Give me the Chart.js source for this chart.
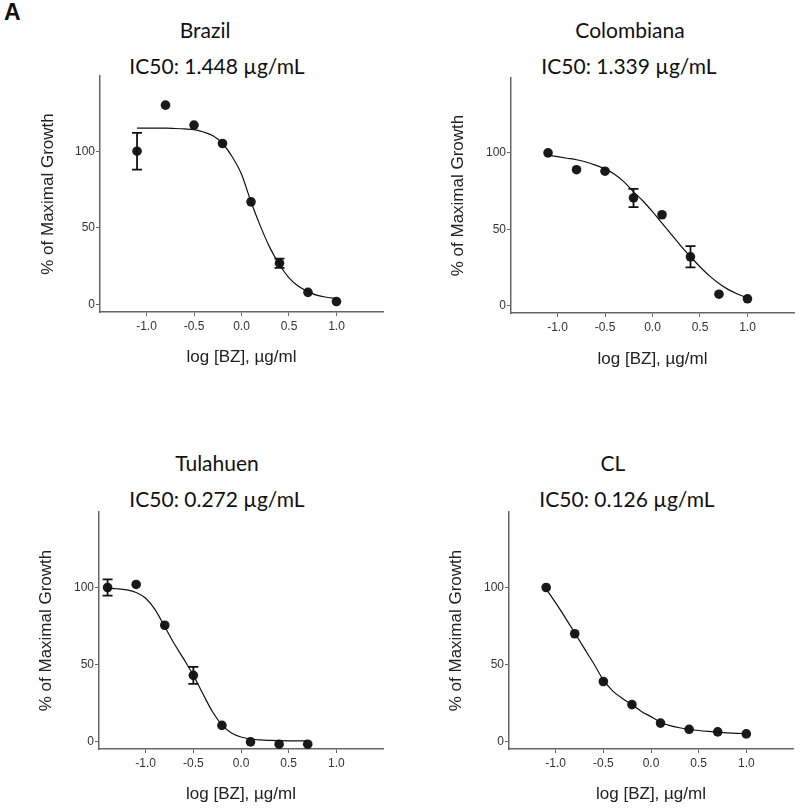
<!DOCTYPE html>
<html>
<head>
<meta charset="utf-8">
<script src="https://cdn.jsdelivr.net/npm/chart.js@4"></script>
<style>
  body { margin: 0; background: #fff; }
  #page { position: relative; width: 800px; height: 809px; overflow: hidden; }
  canvas { position: absolute; }
  .ttl { position: absolute; font-family: Lato, "Open Sans", sans-serif; font-size: 21px; color: #111;
         white-space: nowrap; line-height: 24px; transform: translateX(-50%); }
  #letterA { position: absolute; left: 4px; top: -1px; font: bold 23px "Liberation Sans", Arial, sans-serif; color: #111; }
</style>
</head>
<body>
<div id="page">
  <div id="letterA">A</div>

  <div class="ttl" style="left:205px; top:18px">Brazil</div>
  <div class="ttl" style="left:217px; top:54px">IC50: 1.448 µg/mL</div>
  <div class="ttl" style="left:630px; top:18px">Colombiana</div>
  <div class="ttl" style="left:629px; top:54px">IC50: 1.339 µg/mL</div>
  <div class="ttl" style="left:217px; top:451px">Tulahuen</div>
  <div class="ttl" style="left:613px; top:451px">CL</div>
  <div class="ttl" style="left:217px; top:487px">IC50: 0.272 µg/mL</div>
  <div class="ttl" style="left:627px; top:487px">IC50: 0.126 µg/mL</div>

  <canvas id="brazil" width="400" height="400" style="left:0; top:0"></canvas>
  <canvas id="colombiana" width="400" height="400" style="left:400px; top:0"></canvas>
  <canvas id="tulahuen" width="400" height="409" style="left:0; top:400px"></canvas>
  <canvas id="cl" width="400" height="409" style="left:400px; top:400px"></canvas>
</div>

<script>
// log10 dose, ug/ml
const doseLog = [-1.1, -0.8, -0.5, -0.2, 0.1, 0.4, 0.7, 1.0];
const tulDoseLog = [-1.4, -1.1, -0.8, -0.5, -0.2, 0.1, 0.4, 0.7];

// measured % of maximal growth, with +/- error where a bar is shown
const brazilGrowth = [100, 130, 117, 105, 67, 27, 8, 2];
const brazilErr = [12, 0, 0, 0, 0, 3, 0, 0];
const colGrowth = [100, 89, 88, 70.5, 59.5, 32, 7.5, 4.5];
const colErr = [0, 0, 0, 6, 0, 7, 0, 0];
const tulGrowth = [100, 102, 75.5, 43, 10.5, -0.2, -1.7, -1.7];
const tulErr = [5.3, 0, 0, 5.5, 0, 0, 0, 0];
const clGrowth = [100, 70, 39, 24, 12, 8, 6.3, 5];
const clErr = [0, 0, 0, 0, 0, 0, 0, 0];

// fitted curves
const fitX = [-1.1, -1.0, -0.9, -0.8, -0.7, -0.6, -0.5, -0.4, -0.3, -0.2, -0.1,
              0.0, 0.1, 0.2, 0.3, 0.4, 0.5, 0.6, 0.7, 0.8, 0.9, 1.0];
const tulFitX = [-1.4, -1.3, -1.2, -1.1, -1.0, -0.9, -0.8, -0.7, -0.6, -0.5, -0.4,
                 -0.3, -0.2, -0.1, 0.0, 0.1, 0.2, 0.3, 0.4, 0.5, 0.6, 0.7];
const brazilFit = [115, 115, 115, 115, 114.8, 114.5, 114, 112.5, 110, 105, 96.5,
                   85, 67, 51, 37, 26, 17.5, 12, 8.5, 6, 4.8, 4];
const colFit = [98.5, 97.5, 96.5, 95.5, 94, 92, 89.5, 86, 81, 74.5, 68.5,
                61.5, 54, 46.5, 39, 32, 25.5, 19.5, 14.5, 10.5, 7.5, 5];
const tulFit = [99.5, 99.2, 98.5, 96.8, 93, 85.5, 74.5, 63.5, 53.5, 43, 31,
                19.5, 10.8, 5.6, 3, 1.7, 1.1, 0.8, 0.6, 0.5, 0.5, 0.5];
const clFit = [99, 90, 80.5, 70.5, 60.5, 50.5, 40, 32.8, 28, 24, 19.6,
               16.2, 12.6, 10.4, 9, 8, 7.2, 6.6, 6.1, 5.7, 5.4, 5.2];

const xTicks = [-1.0, -0.5, 0.0, 0.5, 1.0];
const yTicks = [0, 50, 100];

const AXIS_FONT = '"Liberation Sans", Arial, sans-serif';

// error bars drawn through the chart's own scales
const errorBars = {
  id: 'errorBars',
  afterDatasetsDraw(chart) {
    const ds = chart.data.datasets[1];
    if (!ds.errors) return;
    const xs = chart.scales.x, ys = chart.scales.y;
    const ctx = chart.ctx;
    ctx.save();
    ctx.strokeStyle = '#111';
    ctx.lineWidth = 1.8;
    ds.data.forEach((p, i) => {
      const e = ds.errors[i];
      if (!e) return;
      const px = xs.getPixelForValue(p.x);
      const top = ys.getPixelForValue(p.y + e);
      const bot = ys.getPixelForValue(p.y - e);
      ctx.beginPath();
      ctx.moveTo(px, top); ctx.lineTo(px, bot);
      ctx.moveTo(px - 5, top); ctx.lineTo(px + 5, top);
      ctx.moveTo(px - 5, bot); ctx.lineTo(px + 5, bot);
      ctx.stroke();
    });
    ctx.restore();
  }
};

function makeChart(id, xs, ys, errs, fx, fy, lay) {
  const points = xs.map((x, i) => ({ x: x, y: ys[i] }));
  const curve = fx.map((x, i) => ({ x: x, y: fy[i] }));

  return new Chart(document.getElementById(id), {
    type: 'scatter',
    data: {
      datasets: [{
        data: curve,
        showLine: true,
        borderColor: '#111',
        borderWidth: 1.2,
        pointRadius: 0,
        cubicInterpolationMode: 'monotone'
      }, {
        data: points,
        errors: errs,
        pointRadius: 4.8,
        pointBackgroundColor: '#1a1a1a',
        pointBorderColor: '#1a1a1a',
        borderWidth: 0
      }]
    },
    options: {
      responsive: false,
      animation: false,
      devicePixelRatio: 1,
      layout: { padding: { left: 0, top: lay.top, right: lay.right, bottom: 0 } },
      plugins: { legend: { display: false }, tooltip: { enabled: false } },
      scales: {
        x: {
          type: 'linear',
          min: -1.49,
          max: 1.49,
          afterBuildTicks: s => { s.ticks = xTicks.map(v => ({ value: v })); },
          afterFit: s => { s.height = lay.xh; },
          ticks: {
            color: '#333',
            font: { family: AXIS_FONT, size: 12 },
            padding: 3,
            maxRotation: 0,
            callback: v => v.toFixed(1)
          },
          grid: { drawOnChartArea: false, tickLength: 4, color: '#666', lineWidth: 1 },
          border: { color: '#666', width: 1.5 },
          title: {
            display: true,
            text: 'log [BZ], µg/ml',
            color: '#222',
            font: { family: AXIS_FONT, size: 17 },
            padding: { top: 0, bottom: lay.xtb }
          }
        },
        y: {
          min: -4.8,
          max: 149,
          afterBuildTicks: s => { s.ticks = yTicks.map(v => ({ value: v })); },
          afterFit: s => { s.width = lay.yw; },
          ticks: {
            color: '#333',
            font: { family: AXIS_FONT, size: 12 },
            padding: 1
          },
          grid: { drawOnChartArea: false, tickLength: 4, color: '#666', lineWidth: 1 },
          border: { color: '#666', width: 1.5 },
          title: {
            display: true,
            text: '% of Maximal Growth',
            color: '#222',
            font: { family: AXIS_FONT, size: 17 },
            padding: { top: lay.ytp, bottom: 0 }
          }
        }
      }
    },
    plugins: [errorBars]
  });
}

makeChart('brazil', doseLog, brazilGrowth, brazilErr, fitX, brazilFit,
  { top: 76, right: 17, xh: 88, xtb: 32, yw: 100, ytp: 38 });
makeChart('colombiana', doseLog, colGrowth, colErr, fitX, colFit,
  { top: 78, right: 6, xh: 87, xtb: 30, yw: 111, ytp: 48 });
makeChart('tulahuen', tulDoseLog, tulGrowth, tulErr, tulFitX, tulFit,
  { top: 112, right: 17, xh: 60, xtb: 4, yw: 99, ytp: 36 });
makeChart('cl', doseLog, clGrowth, clErr, fitX, clFit,
  { top: 112, right: 7, xh: 60, xtb: 4, yw: 109, ytp: 46 });
</script>
</body>
</html>
